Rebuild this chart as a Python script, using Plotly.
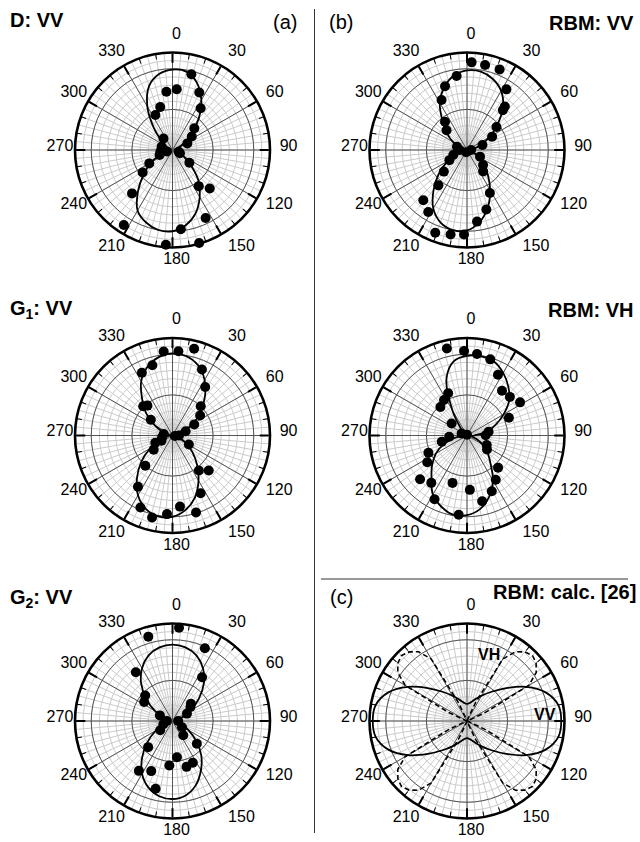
import plotly.graph_objects as go

W, H = 640, 842
FONT = "Liberation Sans, Arial, Helvetica, sans-serif"
R_MAX = 1.2

# ---------------- data ----------------
FIT_THETA = [0, 10, 20, 30, 40, 50, 60, 70, 80, 90, 100, 110, 120, 130, 140, 150, 160, 170,
             180, 190, 200, 210, 220, 230, 240, 250, 260, 270, 280, 290, 300, 310, 320, 330, 340, 350]
CALC_THETA_5 = [0, 5, 10, 15, 20, 25, 30, 35, 40, 45, 50, 55, 60, 65, 70, 75, 80, 85,
                90, 95, 100, 105, 110, 115, 120, 125, 130, 135, 140, 145, 150, 155, 160, 165, 170, 175,
                180, 185, 190, 195, 200, 205, 210, 215, 220, 225, 230, 235, 240, 245, 250, 255, 260, 265,
                270, 275, 280, 285, 290, 295, 300, 305, 310, 315, 320, 325, 330, 335, 340, 345, 350, 355]

# (a) D: VV
d_theta = [14, 4, 354, 25, 34, 344, 334, 45, 55, 66, 322, 287, 262, 254, 106, 113, 249, 127,
           240, 233, 144, 136, 223, 154, 213, 174, 184, 164]
d_r = [0.96, 0.75, 0.72, 0.78, 0.62, 0.55, 0.48, 0.38, 0.29, 0.20, 0.18, 0.14, 0.15, 0.07, 0.08, 0.10,
       0.17, 0.26, 0.33, 0.46, 0.55, 0.66, 0.73, 0.93, 1.10, 0.98, 1.17, 1.19]
d_fit = [0.99, 0.98, 0.88, 0.71, 0.50, 0.30, 0.16, 0.08, 0.04, 0.03, 0.03, 0.07, 0.16, 0.30, 0.50, 0.67,
         0.83, 0.94, 1.00, 1.00, 0.95, 0.86, 0.66, 0.46, 0.30, 0.15, 0.06, 0.03, 0.03, 0.05, 0.09, 0.18,
         0.36, 0.62, 0.84, 0.95]

# (b) RBM: VV
rv_theta = [3, 12, 22, 352, 341, 33, 41, 42, 333, 322, 314, 52, 62, 72, 288, 270, 200, 90, 250, 240,
            117, 133, 143, 227, 219, 152, 221, 212, 162, 172, 201, 191, 182]
rv_r = [1.08, 1.07, 1.07, 0.92, 0.83, 0.89, 0.71, 0.66, 0.69, 0.44, 0.35, 0.46, 0.35, 0.20, 0.13, 0.09,
        0.03, 0.05, 0.18, 0.25, 0.18, 0.27, 0.33, 0.39, 0.56, 0.60, 0.82, 0.90, 0.77, 0.89, 1.09, 1.06, 1.04]
rv_fit = [0.98, 0.98, 0.93, 0.84, 0.69, 0.49, 0.32, 0.18, 0.08, 0.03, 0.03, 0.08, 0.16, 0.27, 0.40, 0.57,
          0.75, 0.90, 0.99, 1.00, 0.95, 0.83, 0.64, 0.45, 0.28, 0.15, 0.06, 0.02, 0.04, 0.10, 0.20, 0.32,
          0.47, 0.67, 0.82, 0.93]

# G1: VV
g1_theta = [354, 4, 14, 344, 334, 24, 34, 315, 320, 44, 54, 306, 63, 72, 280, 260, 100, 90, 245, 119,
            247, 233, 222, 143, 134, 214, 154, 204, 174, 194, 184, 163]
g1_r = [1.04, 1.04, 1.10, 0.90, 0.86, 0.89, 0.72, 0.51, 0.48, 0.50, 0.42, 0.33, 0.30, 0.17, 0.11, 0.13,
        0.03, 0.08, 0.15, 0.23, 0.23, 0.29, 0.50, 0.54, 0.62, 0.76, 0.79, 0.97, 0.88, 1.04, 0.97, 0.99]
g1_fit = [1.01, 0.99, 0.92, 0.79, 0.62, 0.45, 0.29, 0.15, 0.06, 0.03, 0.04, 0.10, 0.20, 0.32, 0.47, 0.64,
          0.81, 0.93, 1.00, 1.01, 0.96, 0.85, 0.68, 0.50, 0.32, 0.17, 0.07, 0.03, 0.05, 0.12, 0.25, 0.42,
          0.58, 0.77, 0.90, 0.98]

# RBM: VH
rh_theta = [347, 358, 7, 17, 27, 38, 48, 58, 67, 336, 327, 317, 308, 80, 89, 290, 0, 266, 256, 116,
            125, 246, 236, 136, 147, 227, 217, 197, 177, 156, 207, 167, 186]
rh_r = [1.10, 1.04, 1.01, 0.98, 0.84, 0.70, 0.71, 0.77, 0.56, 0.57, 0.52, 0.48, 0.24, 0.27, 0.23, 0.07,
        0.01, 0.22, 0.32, 0.27, 0.30, 0.52, 0.59, 0.55, 0.65, 0.79, 0.73, 0.61, 0.67, 0.75, 0.88, 0.83, 0.98]
rh_fit = [0.98, 0.99, 0.97, 0.89, 0.79, 0.68, 0.52, 0.37, 0.24, 0.09, 0.06, 0.12, 0.22, 0.33, 0.45, 0.64,
          0.80, 0.92, 0.98, 0.99, 0.93, 0.84, 0.68, 0.56, 0.44, 0.30, 0.14, 0.04, 0.03, 0.03, 0.04, 0.07,
          0.13, 0.36, 0.74, 0.93]

# G2: VV
g2_theta = [4, 344, 24, 323, 34, 313, 304, 47, 52, 63, 294, 270, 90, 250, 233, 123, 143, 223, 133, 173,
            184, 154, 163, 214, 203, 194]
g2_r = [1.15, 1.08, 0.98, 0.75, 0.65, 0.46, 0.42, 0.31, 0.28, 0.20, 0.17, 0.07, 0.07, 0.12, 0.19, 0.14,
        0.22, 0.44, 0.41, 0.45, 0.55, 0.57, 0.59, 0.74, 0.67, 0.86]
g2_fit = [0.94, 0.92, 0.86, 0.75, 0.60, 0.42, 0.25, 0.12, 0.05, 0.03, 0.05, 0.12, 0.23, 0.38, 0.55, 0.70,
          0.84, 0.93, 0.96, 0.94, 0.87, 0.75, 0.58, 0.40, 0.24, 0.12, 0.05, 0.03, 0.05, 0.12, 0.25, 0.42,
          0.60, 0.75, 0.86, 0.92]

# (c) RBM calc.
calc_vv = [0.21, 0.23, 0.28, 0.36, 0.47, 0.63, 0.84, 1.03, 1.14, 1.16, 1.14, 1.03, 0.84, 0.63, 0.47, 0.36,
           0.28, 0.23, 0.21, 0.23, 0.28, 0.36, 0.47, 0.63, 0.84, 1.03, 1.14, 1.16, 1.14, 1.03, 0.84, 0.63,
           0.47, 0.36, 0.28, 0.23]
calc_vh = [0, 0, 0, 0, 0.02, 0.25, 0.88, 1.04, 1.11, 1.14, 1.11, 1.04, 0.88, 0.25, 0.02, 0, 0, 0,
           0, 0, 0, 0, 0.02, 0.25, 0.88, 1.04, 1.11, 1.14, 1.11, 1.04, 0.88, 0.25, 0.02, 0, 0, 0,
           0, 0, 0, 0, 0.02, 0.25, 0.88, 1.04, 1.11, 1.14, 1.11, 1.04, 0.88, 0.25, 0.02, 0, 0, 0,
           0, 0, 0, 0, 0.02, 0.25, 0.88, 1.04, 1.11, 1.14, 1.11, 1.04, 0.88, 0.25, 0.02, 0, 0, 0]

ANG_TICKS = [0, 30, 60, 90, 120, 150, 180, 210, 240, 270, 300, 330]
ANG_LABELS = ["0", "30", "60", "90", "120", "150", "180", "210", "240", "270", "300", "330"]
TICK_ANG = [0, 10, 20, 30, 40, 50, 60, 70, 80, 90, 100, 110, 120, 130, 140, 150, 160, 170,
            180, 190, 200, 210, 220, 230, 240, 250, 260, 270, 280, 290, 300, 310, 320, 330, 340, 350]
MINOR_ANG = CALC_THETA_5
MINOR_RAD = [0.1, 0.2, 0.3, 0.4, 0.5, 0.6, 0.7, 0.8, 0.9, 1.0, 1.1]
MAJOR_RAD = [0.5, 1.0]

# ---------------- layout helpers ----------------
RADIUS_PX = 97.5
CENTERS = [(172.5, 150), (467, 150), (172.5, 435.5), (467, 435.5), (172.5, 721), (467, 721)]
LABEL_SHIFT = (4, -5)   # pixel shift of the tick-label layer


def domain(cx, cy):
    return dict(x=[(cx - RADIUS_PX) / W, (cx + RADIUS_PX) / W],
                y=[1 - (cy + RADIUS_PX) / H, 1 - (cy - RADIUS_PX) / H])


def base_polar(dom):
    return dict(
        domain=dom, bgcolor="white",
        radialaxis=dict(range=[0, R_MAX], tickmode="array", tickvals=MINOR_RAD, showticklabels=False,
                        ticks="", showline=False, gridcolor="#cbcbcb", gridwidth=0.6),
        angularaxis=dict(rotation=90, direction="clockwise", tickmode="array", tickvals=MINOR_ANG,
                         showticklabels=False, ticks="", gridcolor="#cbcbcb", gridwidth=0.6,
                         showline=False))


def mid_polar(dom):
    return dict(
        domain=dom, bgcolor="rgba(0,0,0,0)",
        radialaxis=dict(range=[0, R_MAX], showgrid=False, showticklabels=False, ticks="",
                        showline=False),
        angularaxis=dict(rotation=90, direction="clockwise", tickmode="array", tickvals=TICK_ANG,
                         showticklabels=False, ticks="inside", ticklen=5, tickwidth=1.3,
                         tickcolor="black", showgrid=False, showline=False))


def label_polar(dom):
    return dict(
        domain=dom, bgcolor="rgba(0,0,0,0)",
        radialaxis=dict(range=[0, R_MAX], showgrid=False, showticklabels=False, ticks="",
                        showline=False),
        angularaxis=dict(rotation=90, direction="clockwise", tickmode="array", tickvals=ANG_TICKS,
                         ticktext=ANG_LABELS, ticks="outside", ticklen=2,
                         tickcolor="rgba(0,0,0,0)", showgrid=False, showline=False,
                         tickfont=dict(family=FONT, size=16, color="black")))


def top_polar(dom):
    return dict(
        domain=dom, bgcolor="rgba(0,0,0,0)",
        radialaxis=dict(range=[0, R_MAX], tickmode="array", tickvals=MAJOR_RAD, showticklabels=False,
                        ticks="", showline=False, gridcolor="#555555", gridwidth=1),
        angularaxis=dict(rotation=90, direction="clockwise", tickmode="array", tickvals=ANG_TICKS,
                         showticklabels=False, ticks="inside", ticklen=9, tickwidth=1.6,
                         tickcolor="black", gridcolor="#555555", gridwidth=1, showline=True,
                         linecolor="black", linewidth=2.6))


fig = go.Figure()
layout = {}
for i, (cx, cy) in enumerate(CENTERS):
    b = "polar" if i == 0 else f"polar{i + 1}"
    m = f"polar{i + 7}"
    lab = f"polar{i + 13}"
    t = f"polar{i + 19}"
    layout[b] = base_polar(domain(cx, cy))
    layout[m] = mid_polar(domain(cx, cy))
    layout[lab] = label_polar(domain(cx + LABEL_SHIFT[0], cy + LABEL_SHIFT[1]))
    layout[t] = top_polar(domain(cx, cy))
    for sp in (b, m, lab):
        fig.add_trace(go.Scatterpolar(r=[0], theta=[0], mode="markers", marker=dict(opacity=0),
                                      hoverinfo="skip", showlegend=False, subplot=sp))

panels = [
    (19, d_theta, d_r, d_fit),
    (20, rv_theta, rv_r, rv_fit),
    (21, g1_theta, g1_r, g1_fit),
    (22, rh_theta, rh_r, rh_fit),
    (23, g2_theta, g2_r, g2_fit),
]
for idx, th, rr, fit in panels:
    sp = f"polar{idx}"
    fig.add_trace(go.Scatterpolar(r=fit + [fit[0]], theta=FIT_THETA + [360], mode="lines",
                                  line=dict(color="black", width=1.8, shape="spline"),
                                  showlegend=False, subplot=sp))
    fig.add_trace(go.Scatterpolar(r=rr, theta=th, mode="markers",
                                  marker=dict(size=10, color="black"),
                                  showlegend=False, subplot=sp))

fig.add_trace(go.Scatterpolar(r=calc_vh + [calc_vh[0]], theta=CALC_THETA_5 + [360], mode="lines",
                              line=dict(color="black", width=1.6, dash="5px,3px"),
                              showlegend=False, subplot="polar24"))
fig.add_trace(go.Scatterpolar(r=calc_vv + [calc_vv[0]], theta=FIT_THETA + [360], mode="lines",
                              line=dict(color="black", width=1.8, shape="spline"),
                              showlegend=False, subplot="polar24"))


def ann(text, x, y, size=20, xanchor="center"):
    return dict(text=text, x=x / W, y=1 - y / H, xref="paper", yref="paper", showarrow=False,
                xanchor=xanchor, yanchor="middle", font=dict(family=FONT, size=size, color="black"))


annotations = [
    ann("<b>D: VV</b>", 8, 20, xanchor="left"),
    ann("(a)", 285, 22),
    ann("(b)", 341, 22),
    ann("<b>RBM: VV</b>", 636, 23, xanchor="right"),
    ann("<b>G<sub>1</sub>: VV</b>", 8, 309, xanchor="left"),
    ann("<b>RBM: VH</b>", 636, 310, xanchor="right"),
    ann("<b>G<sub>2</sub>: VV</b>", 8, 598, xanchor="left"),
    ann("(c)", 341, 597),
    ann("<b>RBM: calc. [26]</b>", 638, 592, xanchor="right"),
    ann("<b>VH</b>", 489, 654, size=16),
    ann("<b>VV</b>", 545, 714, size=16),
]

shapes = [
    dict(type="line", xref="paper", yref="paper", x0=314.5 / W, x1=314.5 / W, y0=1 - 9 / H, y1=1 - 833 / H,
         line=dict(color="#333333", width=1)),
    dict(type="line", xref="paper", yref="paper", x0=321 / W, x1=628 / W, y0=1 - 579 / H, y1=1 - 579 / H,
         line=dict(color="#333333", width=1)),
]

fig.update_layout(width=W, height=H, margin=dict(l=0, r=0, t=0, b=0), paper_bgcolor="white",
                  showlegend=False, annotations=annotations, shapes=shapes,
                  font=dict(family=FONT, size=16, color="black"), **layout)

fig.write_html("out.html")
